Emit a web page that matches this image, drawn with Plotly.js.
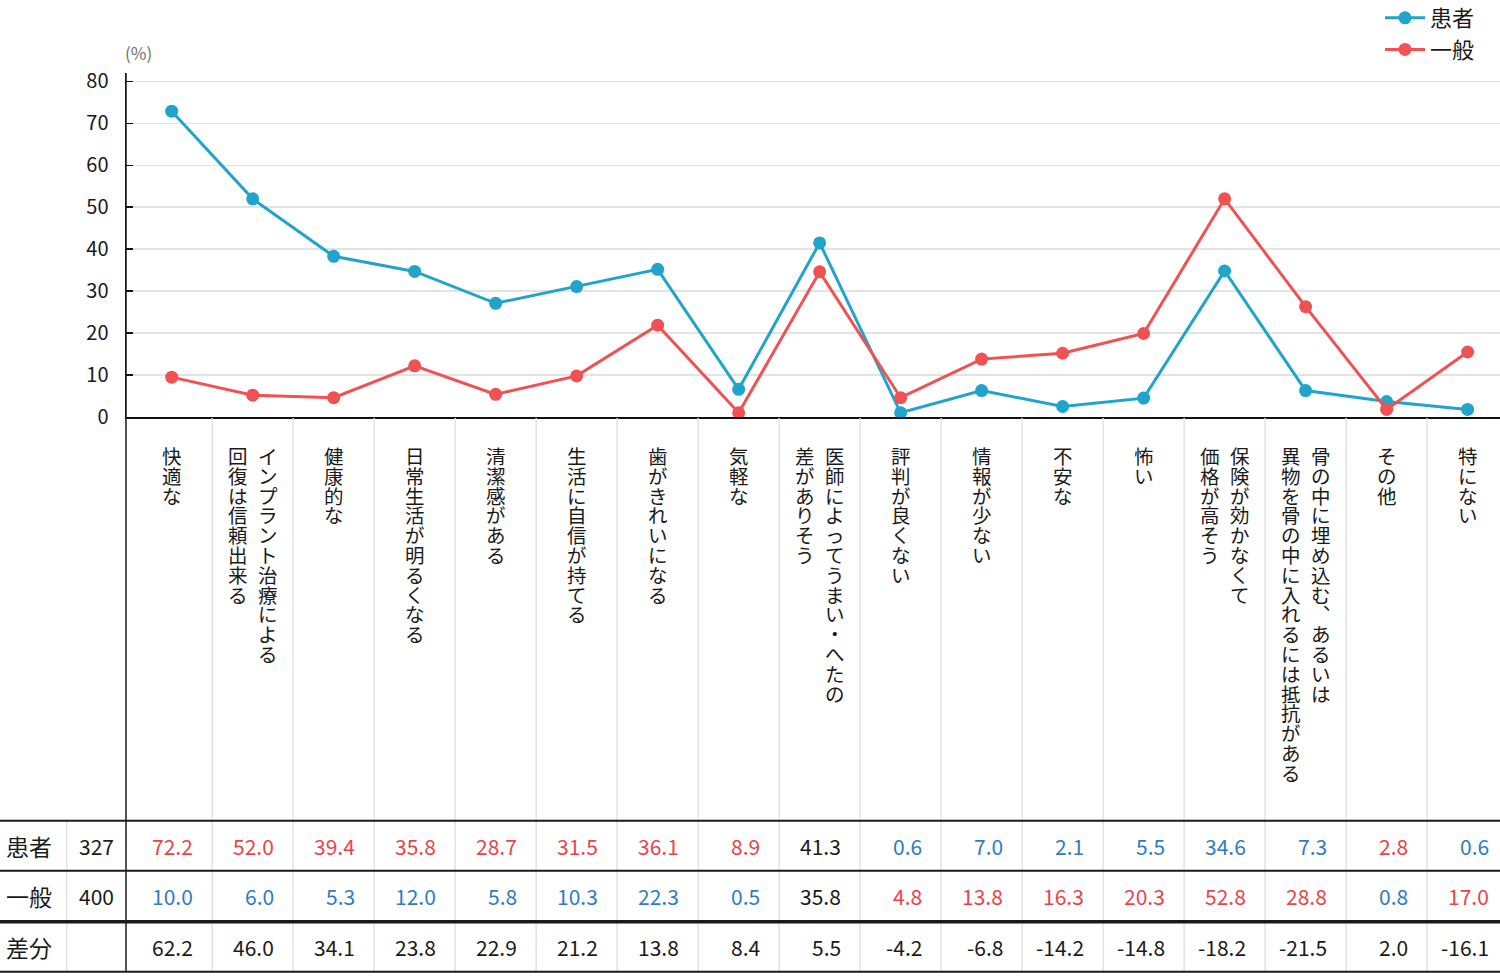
<!DOCTYPE html>
<html>
<head>
<meta charset="utf-8">
<script src="https://cdn.plot.ly/plotly-3.0.1.min.js"></script>
<style>html,body{margin:0;padding:0;background:#fff;}#chart{width:1500px;height:978px;}</style>
</head>
<body>
<div id="chart"></div>
<script>
// ---- data ----
const labelColumns = [
  ['快適な'],
  ['インプラント治療による', '回復は信頼出来る'],
  ['健康的な'],
  ['日常生活が明るくなる'],
  ['清潔感がある'],
  ['生活に自信が持てる'],
  ['歯がきれいになる'],
  ['気軽な'],
  ['医師によってうまい・へたの', '差がありそう'],
  ['評判が良くない'],
  ['情報が少ない'],
  ['不安な'],
  ['怖い'],
  ['保険が効かなくて', '価格が高そう'],
  ['骨の中に埋め込む、あるいは', '異物を骨の中に入れるには抵抗がある'],
  ['その他'],
  ['特にない']
];
const categories = labelColumns.map(c => c.join(''));
const seriesNames = ['患者', '一般'];
const sampleSizes = [327, 400];
// plotted line positions (%)
const patientLine = [72.9, 52.0, 38.3, 34.7, 27.1, 31.1, 35.2, 6.6, 41.5, 1.0, 6.3, 2.5, 4.5, 34.8, 6.3, 3.7, 1.8];
const generalLine = [9.5, 5.2, 4.6, 12.2, 5.4, 9.8, 21.9, 1.0, 34.6, 4.6, 13.8, 15.2, 19.9, 52.0, 26.3, 1.8, 15.5];
// table values (%)
const patientTable = [72.2, 52.0, 39.4, 35.8, 28.7, 31.5, 36.1, 8.9, 41.3, 0.6, 7.0, 2.1, 5.5, 34.6, 7.3, 2.8, 0.6];
const generalTable = [10.0, 6.0, 5.3, 12.0, 5.8, 10.3, 22.3, 0.5, 35.8, 4.8, 13.8, 16.3, 20.3, 52.8, 28.8, 0.8, 17.0];
const diffTable = [62.2, 46.0, 34.1, 23.8, 22.9, 21.2, 13.8, 8.4, 5.5, -4.2, -6.8, -14.2, -14.8, -18.2, -21.5, 2.0, -16.1];
const rowLabels = ['患者', '一般', '差分'];
const yTicks = [0, 10, 20, 30, 40, 50, 60, 70, 80];

// ---- style ----
const tone = [1, 1, 1, 1, 1, 1, 1, 1, 0, -1, -1, -1, -1, -1, -1, 1, -1];
const RED = '#e8454b', BLUE = '#2f7cc1', BLACK = '#1a1a1a';
const C_PAT = '#20a4cb', C_GEN = '#f05254';
const FONT = '"Noto Sans CJK JP", "Noto Sans", sans-serif';

const W = 1500, H = 978, L = 126, T = 73, PB = 417;
const px2x = px => (px - L) / (W - L);
const py2y = py => (PB - py) / (PB - T);

const traces = [
  { x: categories, y: patientLine, name: seriesNames[0], type: 'scatter', mode: 'lines+markers',
    line: { color: C_PAT, width: 3 }, marker: { color: C_PAT, size: 13 }, cliponaxis: false },
  { x: categories, y: generalLine, name: seriesNames[1], type: 'scatter', mode: 'lines+markers',
    line: { color: C_GEN, width: 3 }, marker: { color: C_GEN, size: 13 }, cliponaxis: false }
];

const shapes = [];
const annotations = [];

// vertical separators through label area and table
for (let i = 0; i < categories.length - 1; i++) {
  shapes.push({ type: 'line', xref: 'x', yref: 'paper', x0: i + 0.5, x1: i + 0.5,
    y0: py2y(418), y1: py2y(971.7), line: { color: '#e2e2e2', width: 1.5 } });
}
// table separator between row label and n
shapes.push({ type: 'line', xref: 'paper', yref: 'paper', x0: px2x(66.7), x1: px2x(66.7),
  y0: py2y(820.7), y1: py2y(971.7), line: { color: '#e2e2e2', width: 1.5 } });
// horizontal table lines
[[820.7, 2], [870.7, 2], [921.7, 3.5], [971.7, 2]].forEach(([py, w]) => {
  shapes.push({ type: 'line', xref: 'paper', yref: 'paper', x0: px2x(0), x1: px2x(1500),
    y0: py2y(py), y1: py2y(py), line: { color: '#1a1a1a', width: w } });
});
// y axis line extended down
shapes.push({ type: 'line', xref: 'paper', yref: 'paper', x0: 0, x1: 0,
  y0: 1, y1: py2y(971.7), line: { color: '#1a1a1a', width: 1.5 } });

// vertical (tategaki) category labels: one annotation per column, one character per line
const PITCH = 19.8, GLYPH = 19.5;
const vertForm = { '、': '︑', '。': '︒' };
labelColumns.forEach((cols, i) => {
  const n = cols.length;
  cols.forEach((col, j) => {
    const off = n === 1 ? 0 : (j === 0 ? 15 : -15);
    const txt = Array.from(col).map(ch => `<span style="font-size:${GLYPH}px">${vertForm[ch] || ch}</span>`).join('<br>');
    annotations.push({ xref: 'x', yref: 'paper', x: categories[i], y: py2y(439),
      text: txt, showarrow: false, xanchor: 'center', yanchor: 'top', xshift: off,
      font: { family: FONT, size: PITCH / 1.3, color: BLACK } });
  });
});

// table
const rowY = [845.7, 896.2, 946.7];
rowLabels.forEach((lab, r) => {
  annotations.push({ xref: 'paper', yref: 'paper', x: px2x(4), y: py2y(rowY[r]), text: lab,
    showarrow: false, xanchor: 'left', yanchor: 'middle', font: { family: FONT, size: 23, color: BLACK } });
});
sampleSizes.forEach((n, r) => {
  annotations.push({ xref: 'paper', yref: 'paper', x: px2x(116), y: py2y(rowY[r]), text: String(n),
    showarrow: false, xanchor: 'right', yanchor: 'middle', font: { family: FONT, size: 21, color: BLACK } });
});
const colorFor = (t, isPatient) => t === 0 ? BLACK : ((t > 0) === isPatient ? RED : BLUE);
categories.forEach((c, i) => {
  [[patientTable, colorFor(tone[i], true)], [generalTable, colorFor(tone[i], false)], [diffTable, BLACK]]
    .forEach(([arr, col], r) => {
      annotations.push({ xref: 'x', yref: 'paper', x: c, y: py2y(rowY[r]), text: arr[i].toFixed(1),
        showarrow: false, xanchor: 'right', yanchor: 'middle', xshift: 23,
        font: { family: FONT, size: 21, color: col } });
    });
});

// unit label
annotations.push({ xref: 'paper', yref: 'paper', x: px2x(138), y: py2y(53), text: '(%)', showarrow: false,
  xanchor: 'center', yanchor: 'middle', font: { family: FONT, size: 17, color: '#707070' } });

const layout = {
  width: W, height: H, autosize: false,
  margin: { l: L, r: 0, t: T, b: H - PB, pad: 0, autoexpand: false },
  paper_bgcolor: '#fff', plot_bgcolor: '#fff',
  font: { family: FONT, color: BLACK },
  showlegend: true,
  legend: { x: px2x(1480), xanchor: 'right', y: py2y(-3), yanchor: 'top', bgcolor: 'rgba(0,0,0,0)',
    itemwidth: 40, font: { family: FONT, size: 22, color: BLACK }, tracegroupgap: 0 },
  xaxis: { type: 'category', categoryorder: 'array', categoryarray: categories,
    range: [-0.564, 16.40], showticklabels: false, ticks: '', showgrid: false, zeroline: false,
    showline: true, linecolor: '#111', linewidth: 2, fixedrange: true },
  yaxis: { range: [0, 82], tickvals: yTicks, ticktext: yTicks.map(String), ticks: 'inside', ticklen: 7,
    tickcolor: '#111', tickwidth: 1.5, showline: true, linecolor: '#111', linewidth: 1.5,
    showgrid: true, gridcolor: '#e3e3e3', gridwidth: 1.5, zeroline: false, ticklabelstandoff: 12,
    tickfont: { family: FONT, size: 20, color: BLACK }, fixedrange: true },
  shapes: shapes,
  annotations: annotations
};

Plotly.newPlot('chart', traces, layout, { displayModeBar: false, staticPlot: true });
</script>
</body>
</html>
